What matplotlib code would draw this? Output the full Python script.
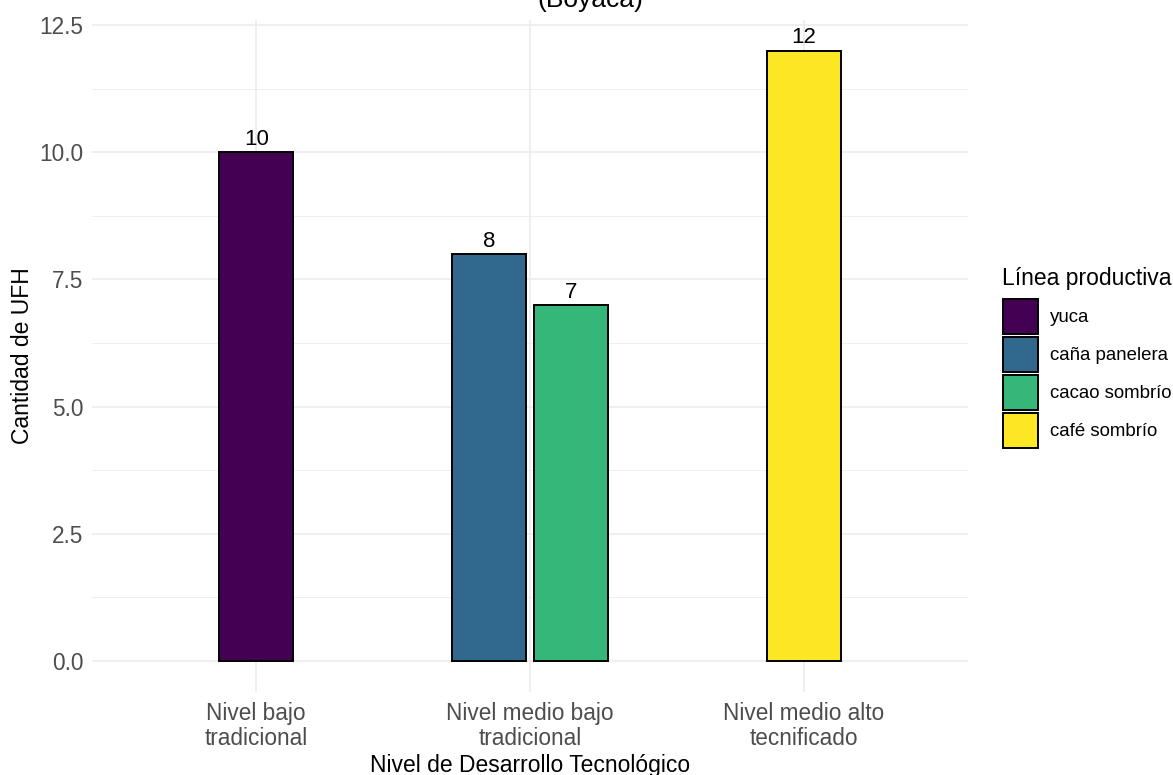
import matplotlib
matplotlib.use("Agg")
import matplotlib.pyplot as plt
from matplotlib.patches import Patch
import numpy as np

plt.rcParams['font.family'] = ['Liberation Sans', 'DejaVu Sans']

niveles = ["Nivel bajo\ntradicional", "Nivel medio bajo\ntradicional", "Nivel medio alto\ntecnificado"]
lineas = ["yuca", "caña panelera", "cacao sombrío", "café sombrío"]
nivel_de_linea = [0, 1, 1, 2]
cantidades = [10, 8, 7, 12]
colores = ["#440154", "#31688E", "#35B779", "#FDE725"]
y_ticks = [0.0, 2.5, 5.0, 7.5, 10.0, 12.5]

W, H = 1173, 775
fig = plt.figure(figsize=(W / 100, H / 100), dpi=100)
left, right, top, bottom = 92, 968, 20, 691.5
ax = fig.add_axes([left / W, 1 - bottom / H, (right - left) / W, (bottom - top) / H])

ax.set_xlim(0.4, 3.6)
ax.set_ylim(-0.6, 12.6)
for s in ax.spines.values():
    s.set_visible(False)

grid_c = "#EBEBEB"
for y in y_ticks:
    ax.axhline(y, color=grid_c, lw=1.1, zorder=0)
for y in np.arange(1.25, 12.6, 2.5):
    ax.axhline(y, color=grid_c, lw=0.55, zorder=0)
for i in range(len(niveles)):
    ax.axvline(i + 1, color=grid_c, lw=1.1, zorder=0)

bar_w = 0.27
step = 0.30
for g in range(len(niveles)):
    idx = [k for k in range(len(lineas)) if nivel_de_linea[k] == g]
    n = len(idx)
    for j, k in enumerate(idx):
        xc = g + 1 + (j - (n - 1) / 2) * step
        ax.bar(xc, cantidades[k], width=bar_w, color=colores[k], edgecolor="black",
               linewidth=1.4, zorder=2)
        ax.text(xc, cantidades[k] + 0.14, f"{cantidades[k]}", ha="center", va="baseline",
                fontsize=16, color="black", zorder=3)

ax.set_xticks(range(1, len(niveles) + 1))
ax.set_xticklabels(niveles, fontsize=16.3, color="#4D4D4D", linespacing=1.1)
ax.set_yticks(y_ticks)
ax.set_yticklabels([f"{v:.1f}" for v in y_ticks], fontsize=16.3, color="#4D4D4D")
ax.tick_params(length=0, pad=6)
ax.tick_params(axis="x", pad=7.5)

ax.set_xlabel("Nivel de Desarrollo Tecnológico", fontsize=16.5, color="black", labelpad=3)
ax.set_ylabel("Cantidad de UFH", fontsize=16.5, color="black", labelpad=4)

fig.text(590 / W, 1 - 7 / H, "(Boyacá)", ha="center", va="baseline", fontsize=19, color="black")

fig.text(1002 / W, 1 - 285 / H, "Línea productiva", ha="left", va="baseline",
         fontsize=16.5, color="black")
handles = [Patch(facecolor=c, edgecolor="black", linewidth=1.4) for c in colores]
leg = fig.legend(handles, lineas, loc="upper left", bbox_to_anchor=(1003 / W, 1 - 299 / H),
                 frameon=False, fontsize=13.4,
                 handlelength=1.88, handleheight=2.52, labelspacing=0.16, handletextpad=0.66,
                 borderpad=0, borderaxespad=0)

fig.savefig("out.png", dpi=100)
